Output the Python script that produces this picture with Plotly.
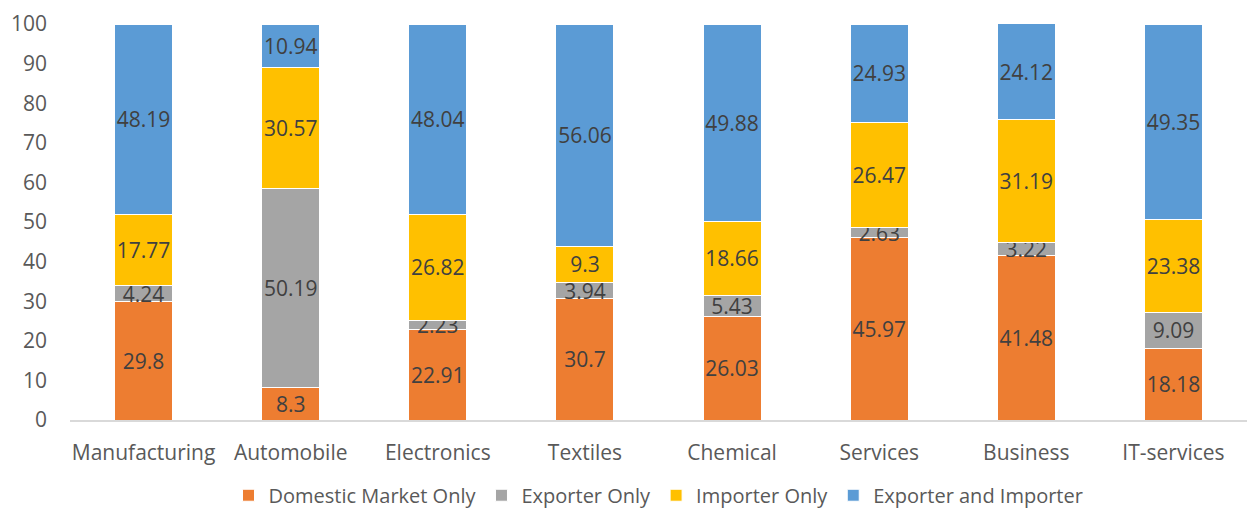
import plotly.graph_objects as go

categories = ["Manufacturing", "Automobile", "Electronics", "Textiles", "Chemical", "Services", "Business", "IT-services"]
domestic = [29.8, 8.3, 22.91, 30.7, 26.03, 45.97, 41.48, 18.18]
exporter = [4.24, 50.19, 2.23, 3.94, 5.43, 2.63, 3.22, 9.09]
importer = [17.77, 30.57, 26.82, 9.3, 18.66, 26.47, 31.19, 23.38]
both = [48.19, 10.94, 48.04, 56.06, 49.88, 24.93, 24.12, 49.35]

series = [
    ("Domestic Market Only", domestic, "#ED7D31"),
    ("Exporter Only", exporter, "#A5A5A5"),
    ("Importer Only", importer, "#FFC000"),
    ("Exporter and Importer", both, "#5B9BD5"),
]

FONT = "Open Sans"
fig = go.Figure()
for name, vals, color in series:
    fig.add_trace(go.Bar(
        x=categories, y=vals, name=name,
        marker=dict(color=color, line=dict(color="white", width=1)),
        text=[str(v) for v in vals], textposition="inside",
        insidetextanchor="middle", textangle=0,
        textfont=dict(family=FONT, size=21, color="#404040"),
    ))

fig.update_layout(
    barmode="stack", bargap=0.606,
    width=1247, height=515,
    margin=dict(l=70, r=0, t=24, b=95, autoexpand=False),
    plot_bgcolor="white", paper_bgcolor="white",
    font=dict(family=FONT, size=21, color="#595959"),
    uniformtext=dict(minsize=21, mode="show"),
    showlegend=True,
    legend=dict(orientation="h", x=0.5, xanchor="center", y=-0.19, yanchor="middle",
                font=dict(family=FONT, size=20, color="#595959"), traceorder="normal",
                itemwidth=30, tracegroupgap=0),
    xaxis=dict(showline=True, linecolor="#D9D9D9", linewidth=1.5, showgrid=False, automargin=False,
               tickfont=dict(family=FONT, size=21, color="#595959"), ticklabelstandoff=13),
    yaxis=dict(range=[0, 100], dtick=10, showgrid=False, zeroline=False, showline=False, automargin=False,
               tickfont=dict(family=FONT, size=21, color="#595959"), ticklabelstandoff=22),
)

fig.write_html("out.html")
